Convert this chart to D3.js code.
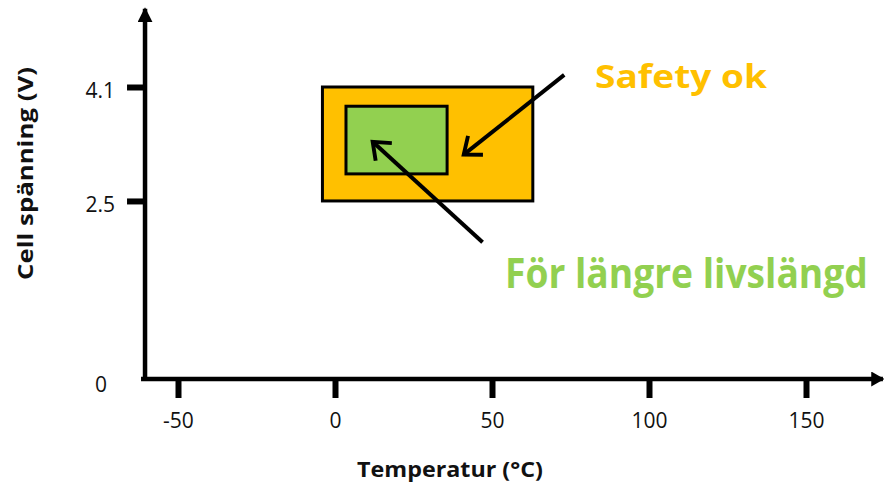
<!DOCTYPE html>
<html lang="sv">
<head>
<meta charset="UTF-8">
<script src="https://d3js.org/d3.v7.min.js"></script>
<style>
  body { margin: 0; background: #fff; }
  svg { display: block; font-family: "Open Sans", sans-serif; }
</style>
</head>
<body>
<svg width="884" height="489"></svg>
<script>
// axis ticks
var tempTicks = [-50, 0, 50, 100, 150];
var voltTicks = [2.5, 4.1];

// zones: outer = safety window, inner = longer life window
var zoneNames = ["Safety ok", "För längre livslängd"];
var zoneColors = ["#FFC000", "#92D050"];
var zoneTempMin = [-4, 3.5];
var zoneTempMax = [63, 35.7];
var zoneVoltMin = [2.5, 2.88];
var zoneVoltMax = [4.1, 3.83];

// annotation arrows (from label towards zone), data coords
var arrowFromT = [73, 47];
var arrowFromV = [4.27, 1.92];
var arrowToT = [41, 12];
var arrowToV = [3.15, 3.33];

var svg = d3.select("svg");

// scales
var x = d3.scaleLinear().domain([-50, 150]).range([178, 806]);
var y = d3.scaleLinear().domain([0, 4.1]).range([379, 87]);
var tMin = -60.5, tMax = 174.5, vMax = 5.2;

var defs = svg.append("defs");
defs.append("marker").attr("id", "triX")
  .attr("viewBox", "0 0 10 10").attr("refX", 9).attr("refY", 5)
  .attr("markerUnits", "userSpaceOnUse")
  .attr("markerWidth", 13).attr("markerHeight", 15)
  .attr("orient", "auto").attr("preserveAspectRatio", "none")
  .append("path").attr("d", "M0,0 L10,5 L0,10 z").attr("fill", "#000");
defs.append("marker").attr("id", "triY")
  .attr("viewBox", "0 0 10 10").attr("refX", 9).attr("refY", 5)
  .attr("markerUnits", "userSpaceOnUse")
  .attr("markerWidth", 15).attr("markerHeight", 15)
  .attr("orient", "auto").attr("preserveAspectRatio", "none")
  .append("path").attr("d", "M0,0 L10,5 L0,10 z").attr("fill", "#000");
defs.append("marker").attr("id", "chev")
  .attr("viewBox", "-12 -10 14 20").attr("refX", 0).attr("refY", 0)
  .attr("markerUnits", "userSpaceOnUse")
  .attr("markerWidth", 22).attr("markerHeight", 30)
  .attr("orient", "auto")
  .append("path").attr("d", "M-10,-8 L0,0 L-10,8")
  .attr("fill", "none").attr("stroke", "#000").attr("stroke-width", 2.6)
  .attr("stroke-linejoin", "miter");

// zones
svg.selectAll("rect.zone")
  .data(zoneNames)
  .enter().append("rect")
  .attr("class", "zone")
  .attr("x", function(d, i) { return x(zoneTempMin[i]); })
  .attr("y", function(d, i) { return y(zoneVoltMax[i]); })
  .attr("width", function(d, i) { return x(zoneTempMax[i]) - x(zoneTempMin[i]); })
  .attr("height", function(d, i) { return y(zoneVoltMin[i]) - y(zoneVoltMax[i]); })
  .attr("fill", function(d, i) { return zoneColors[i]; })
  .attr("stroke", "#000").attr("stroke-width", 3);

// x axis ticks
var xAxis = svg.append("g")
  .attr("transform", "translate(0," + y(0) + ")")
  .call(d3.axisBottom(x).tickValues(tempTicks).tickSize(19).tickPadding(15)
    .tickFormat(function(d) { return d; }));
xAxis.select(".domain").remove();
xAxis.selectAll(".tick line").attr("stroke", "#000").attr("stroke-width", 6);
xAxis.selectAll(".tick text").attr("font-size", 21).attr("fill", "#111")
  .attr("font-family", "'Open Sans', sans-serif");

// y axis ticks
var yAxis = svg.append("g")
  .attr("transform", "translate(" + x(tMin) + ",0)")
  .call(d3.axisLeft(y).tickValues(voltTicks).tickSize(18).tickPadding(12)
    .tickFormat(function(d) { return d; }));
yAxis.select(".domain").remove();
yAxis.selectAll(".tick line").attr("stroke", "#000").attr("stroke-width", 6);
yAxis.selectAll(".tick text").attr("font-size", 21).attr("fill", "#111")
  .attr("font-family", "'Open Sans', sans-serif").attr("dy", "0.5em");

// zero label for voltage (no tick)
svg.append("text")
  .attr("x", x(tMin) - 38).attr("y", y(0) + 6)
  .attr("dy", "0.32em").attr("text-anchor", "end")
  .attr("font-size", 21).attr("fill", "#111")
  .text("0");

// axis lines with arrow heads
svg.append("line")
  .attr("x1", x(tMin) - 4).attr("y1", y(0))
  .attr("x2", x(tMax)).attr("y2", y(0))
  .attr("stroke", "#000").attr("stroke-width", 4.5)
  .attr("marker-end", "url(#triX)");
svg.append("line")
  .attr("x1", x(tMin)).attr("y1", y(0) + 2)
  .attr("x2", x(tMin)).attr("y2", y(vMax))
  .attr("stroke", "#000").attr("stroke-width", 4.5)
  .attr("marker-end", "url(#triY)");

// annotation arrows
svg.selectAll("line.note")
  .data(zoneNames)
  .enter().append("line")
  .attr("class", "note")
  .attr("x1", function(d, i) { return x(arrowFromT[i]); })
  .attr("y1", function(d, i) { return y(arrowFromV[i]); })
  .attr("x2", function(d, i) { return x(arrowToT[i]); })
  .attr("y2", function(d, i) { return y(arrowToV[i]); })
  .attr("stroke", "#000").attr("stroke-width", 4)
  .attr("marker-end", "url(#chev)");

// text squeezed/stretched to a target width with a transform
function fitText(txt, px, py, size, width, color, rot) {
  var t = svg.append("text")
    .attr("font-size", size).attr("font-weight", "bold")
    .attr("fill", color).text(txt);
  var w = t.node().getComputedTextLength();
  var tr = "translate(" + px + "," + py + ")" + (rot ? " rotate(" + rot + ")" : "") +
    " scale(" + (width / w) + ",1)";
  t.attr("transform", tr);
  return t;
}

// zone labels
fitText(zoneNames[0], 595, 88, 33, 172, zoneColors[0]);
fitText(zoneNames[1], 505, 288, 41, 363, zoneColors[1]);

// axis titles
fitText("Temperatur (°C)", 357, 477, 22, 186, "#111");
fitText("Cell spänning (V)", 33, 280, 22, 213, "#111", -90);
</script>
</body>
</html>
